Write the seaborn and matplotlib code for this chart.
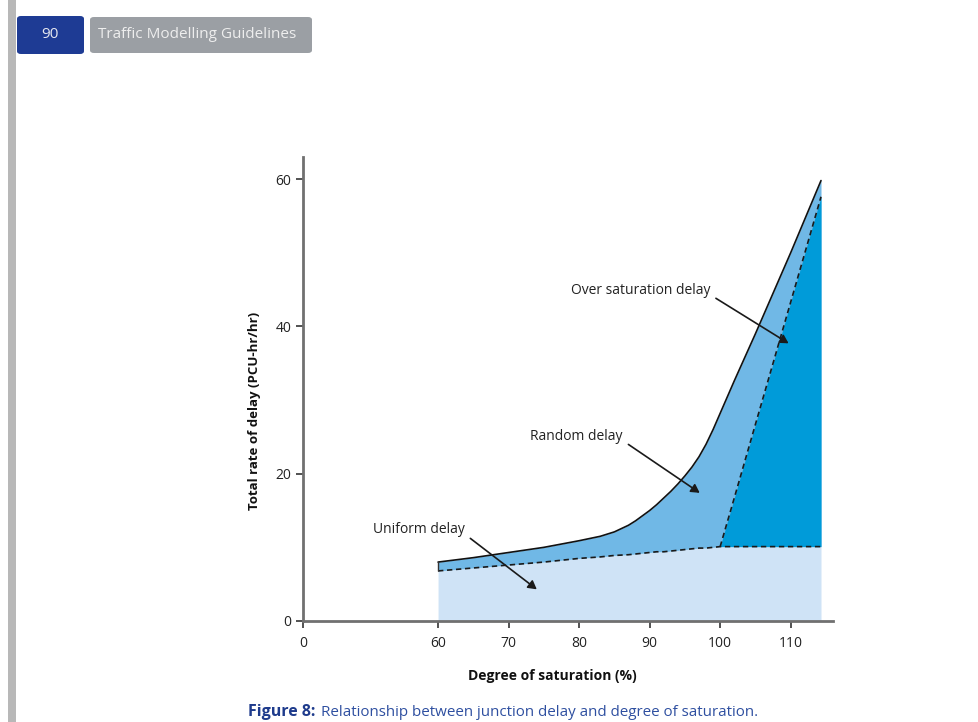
import numpy as np
import pandas as pd
import seaborn as sns
from matplotlib import pyplot as plt
from matplotlib.patches import FancyBboxPatch, Rectangle

# degree of saturation (%) and delay components (PCU-hr/hr)
sat = [60, 65, 70, 75, 80, 83, 85, 87, 88, 89, 90, 91, 92, 93, 94, 95, 96, 97, 98, 99,
       100, 101, 102, 105, 110, 114.3]
uniform = [6.8, 7.2, 7.6, 8.0, 8.5, 8.7, 8.9, 9.0, 9.1, 9.2, 9.3, 9.4, 9.4, 9.5, 9.6, 9.7,
           9.8, 9.9, 9.9, 10.0, 10.1, 10.1, 10.1, 10.1, 10.1, 10.1]
oversat = [0, 0, 0, 0, 0, 0, 0, 0, 0, 0, 0, 0, 0, 0, 0, 0, 0, 0, 0, 0,
           0, 3.3, 6.6, 16.6, 33.2, 47.5]
total = [8.0, 8.6, 9.3, 10.0, 10.9, 11.5, 12.1, 13.0, 13.6, 14.3, 15.0, 15.8, 16.7, 17.6,
         18.6, 19.7, 20.9, 22.3, 24.0, 26.0, 28.2, 30.4, 32.6, 39.0, 50.0, 59.8]

x_ticks = [0, 60, 70, 80, 90, 100, 110]
y_ticks = [0, 20, 40, 60]

df = pd.DataFrame({'sat': sat, 'uniform': uniform, 'oversat': oversat, 'total': total})
df['over_top'] = df['uniform'] + df['oversat']
over = df[df.sat >= 100]

sns.set_style("ticks")
plt.rcParams['font.family'] = ['Open Sans', 'DejaVu Sans']

# broken x axis: 0..60 squeezed into a short stretch
X0 = 40.85
def fwd(x):
    x = np.asarray(x, dtype=float)
    return np.where(x < 60, X0 + x * (60 - X0) / 60, x)

def inv(v):
    v = np.asarray(v, dtype=float)
    return np.where(v < 60, (v - X0) * 60 / (60 - X0), v)

fig = plt.figure(figsize=(9.79, 7.22), dpi=100)
ax = fig.add_axes([303 / 979, 1 - 621 / 722, 530 / 979, 464 / 722])
ax.set_xscale('function', functions=(fwd, inv))

c_uni, c_rand, c_over = '#cfe3f6', '#70b8e6', '#009bd9'
ax.fill_between(df.sat, 0, df.uniform, color=c_uni, lw=0)
ax.fill_between(df.sat, df.uniform, df.total, color=c_rand, lw=0)
ax.fill_between(over.sat, over.uniform, over.over_top, color=c_over, lw=0)

dash = (0, (3.2, 2.2))
sns.lineplot(x=df.sat, y=df.total, color='#111111', lw=1.2, ax=ax)
sns.lineplot(x=df.sat, y=df.uniform, color='#1a1a1a', lw=1.2, linestyle=dash, ax=ax)
sns.lineplot(x=over.sat, y=over.over_top, color='#1a1a1a', lw=1.2, linestyle=dash, ax=ax)
ax.vlines(sat[0], uniform[0], total[0], color='#333333', lw=1.0)

arrow = dict(arrowstyle='-|>,head_length=0.5,head_width=0.28', color='#1a1a1a', lw=1.2,
             relpos=(1.0, 0.2), shrinkB=0)
ax.annotate('Over saturation delay', xy=(109.7, 37.7), xytext=(98.6, 44.9),
            ha='right', va='center', fontsize=10, color='#222222', arrowprops=arrow)
ax.annotate('Random delay', xy=(97.1, 17.4), xytext=(86.2, 25.1),
            ha='right', va='center', fontsize=10, color='#222222', arrowprops=arrow)
ax.annotate('Uniform delay', xy=(74.0, 4.3), xytext=(63.8, 12.4),
            ha='right', va='center', fontsize=10, color='#222222', arrowprops=arrow)

ax.set_xlim(0, 116)
ax.set_ylim(0, 63)
ax.set_xticks(x_ticks)
ax.set_xticklabels([str(t) for t in x_ticks])
ax.set_yticks(y_ticks)
ax.minorticks_off()
ax.tick_params(axis='both', labelsize=10, labelcolor='#222222', color='#333333',
               length=5, width=1.2, direction='out')
ax.tick_params(axis='x', pad=6)
for side in ['top', 'right']:
    ax.spines[side].set_visible(False)
for side in ['left', 'bottom']:
    ax.spines[side].set_color('#707070')
    ax.spines[side].set_linewidth(2)
ax.set_xlabel('Degree of saturation (%)', fontsize=10, fontweight='bold', color='#111111')
ax.set_ylabel('Total rate of delay (PCU-hr/hr)', fontsize=9.5, fontweight='bold', color='#111111')
ax.xaxis.set_label_coords(0.470, -0.1185)
ax.yaxis.set_label_coords(-0.0906, 0.4526)
ax.xaxis.label.set_va('center')
ax.yaxis.label.set_va('center')

# page decoration: margin bar, header tabs, caption
fig.patches.append(Rectangle((8 / 979, 0), 8 / 979, 1, transform=fig.transFigure,
                             color='#b8b8b8', lw=0))
fig.patches.append(FancyBboxPatch((17 / 979, 1 - 54 / 722), 67 / 979, 38 / 722,
                                  boxstyle='round,pad=0,rounding_size=0.004',
                                  transform=fig.transFigure, color='#1e3b94', lw=0))
fig.patches.append(FancyBboxPatch((90 / 979, 1 - 53 / 722), 222 / 979, 36 / 722,
                                  boxstyle='round,pad=0,rounding_size=0.004',
                                  transform=fig.transFigure, color='#9b9fa4', lw=0))
fig.text(50 / 979, 1 - 34 / 722, '90', ha='center', va='center', fontsize=11, color='#e6e8f0')
fig.text(197 / 979, 1 - 34 / 722, 'Traffic Modelling Guidelines', ha='center', va='center',
         fontsize=11, color='#eeeeee')
fig.text(248 / 979, 1 - 716 / 722, 'Figure 8:', ha='left', va='baseline', fontsize=11.5,
         fontweight='bold', color='#1e3b8c')
fig.text(321 / 979, 1 - 716 / 722, 'Relationship between junction delay and degree of saturation.',
         ha='left', va='baseline', fontsize=10.9, color='#2e4fa0')

plt.savefig('out.png', dpi=100)
